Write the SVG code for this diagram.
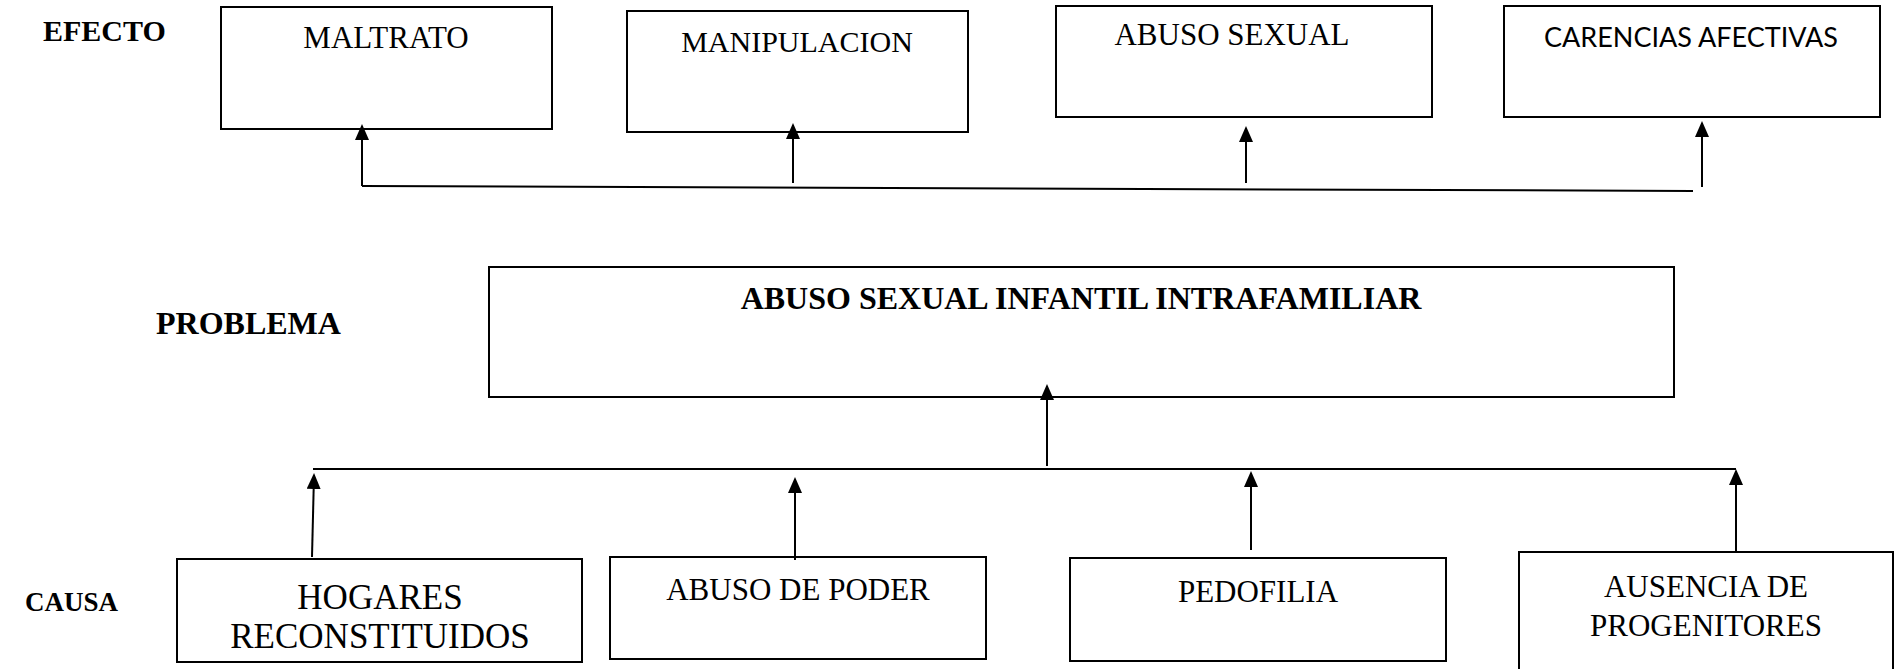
<svg xmlns="http://www.w3.org/2000/svg" width="1895" height="669" viewBox="0 0 1895 669">
<style>
.box{fill:#fff;stroke:#000;stroke-width:2}
.t{font-family:"Liberation Serif","Times New Roman",serif;fill:#000;text-anchor:middle}
.lbl{font-family:"Liberation Serif","Times New Roman",serif;font-weight:bold;fill:#000}
.s{font-family:Lato,"Liberation Sans",sans-serif;fill:#000;text-anchor:middle}
.c{fill:none;stroke:#000;stroke-width:2}
.a{fill:none;stroke:#000;stroke-width:2;marker-end:url(#ah)}
</style>
<defs>
<marker id="ah" viewBox="0 0 16 14" refX="14" refY="7" markerWidth="16" markerHeight="14" markerUnits="userSpaceOnUse" orient="auto">
<path d="M0,0 L16,7 L0,14 z" fill="#000"/>
</marker>
</defs>
<rect width="1895" height="669" fill="#fff"/>
<g id="labels">
<text class="lbl" x="43" y="41" font-size="30">EFECTO</text>
<text class="lbl" x="156" y="334" font-size="32">PROBLEMA</text>
<text class="lbl" x="25" y="611" font-size="27">CAUSA</text>
</g>
<g id="efecto-maltrato">
<rect class="box" x="221" y="7" width="331" height="122"/>
<text class="t" x="386" y="48" font-size="31">MALTRATO</text>
</g>
<g id="efecto-manipulacion">
<rect class="box" x="627" y="11" width="341" height="121"/>
<text class="t" x="797" y="52" font-size="30">MANIPULACION</text>
</g>
<g id="efecto-abuso-sexual">
<rect class="box" x="1056" y="6" width="376" height="111"/>
<text class="t" x="1232" y="45" font-size="31">ABUSO SEXUAL</text>
</g>
<g id="efecto-carencias">
<rect class="box" x="1504" y="6" width="376" height="111"/>
<text class="s" x="1691" y="47" font-size="27">CARENCIAS AFECTIVAS</text>
</g>
<g id="problema">
<rect class="box" x="489" y="267" width="1185" height="130"/>
<text class="t" x="1081" y="309" font-size="32" font-weight="bold">ABUSO SEXUAL INFANTIL INTRAFAMILIAR</text>
</g>
<g id="causa-hogares">
<rect class="box" x="177" y="559" width="405" height="103"/>
<text class="t" x="380" y="609" font-size="35">HOGARES</text>
<text class="t" x="380" y="648" font-size="35">RECONSTITUIDOS</text>
</g>
<g id="causa-abuso-poder">
<rect class="box" x="610" y="557" width="376" height="102"/>
<text class="t" x="798" y="600" font-size="31">ABUSO DE PODER</text>
</g>
<g id="causa-pedofilia">
<rect class="box" x="1070" y="558" width="376" height="103"/>
<text class="t" x="1258" y="602" font-size="31">PEDOFILIA</text>
</g>
<g id="causa-ausencia">
<rect class="box" x="1519" y="552" width="374" height="130"/>
<text class="t" x="1706" y="597" font-size="31">AUSENCIA DE</text>
<text class="t" x="1706" y="636" font-size="31">PROGENITORES</text>
</g>
<g id="connectors">
<path class="c" d="M1693,191 L362,186"/>
<path class="a" d="M362,186 L362,126"/>
<path class="a" d="M793,183 L793,125"/>
<path class="a" d="M1246,183 L1246,128"/>
<path class="a" d="M1702,187 L1702,123"/>
<path class="a" d="M1047,466 L1047,386"/>
<path class="c" d="M313,469 L1736,469"/>
<path class="a" d="M312,557 L314,475"/>
<path class="a" d="M795,560 L795,479"/>
<path class="a" d="M1251,550 L1251,473"/>
<path class="a" d="M1736,552 L1736,471"/>
</g>
</svg>
